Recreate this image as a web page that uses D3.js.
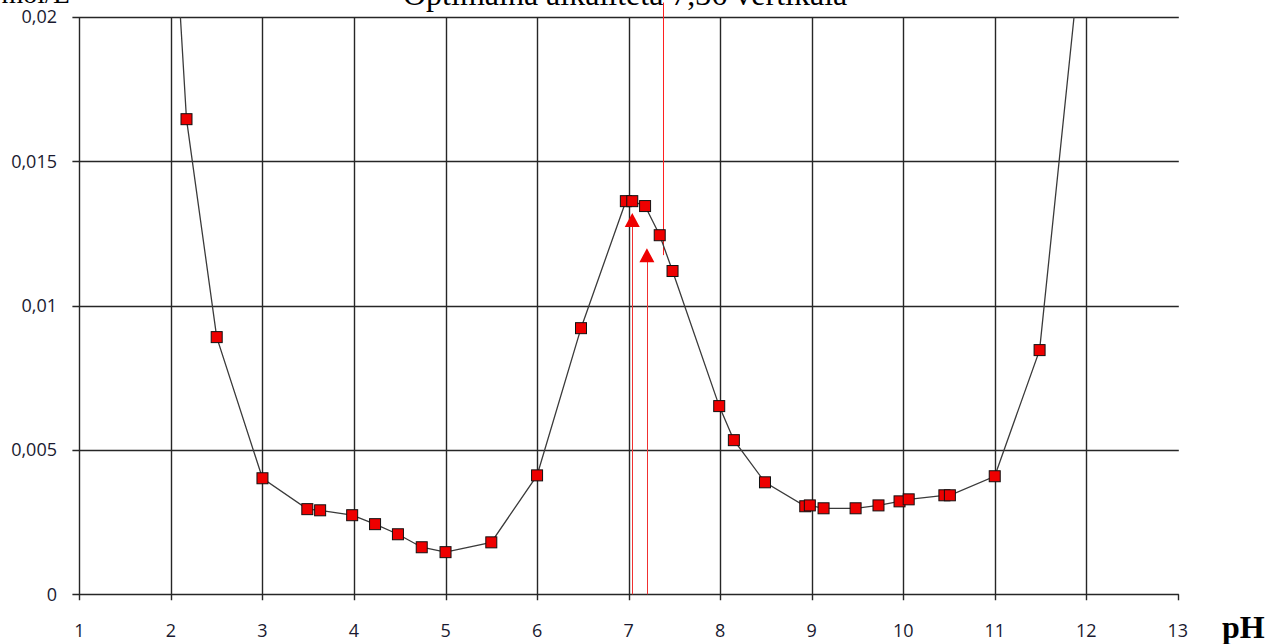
<!DOCTYPE html>
<html><head><meta charset="utf-8">
<script src="https://cdn.jsdelivr.net/npm/d3@7"></script>
<style>
html,body{margin:0;padding:0;background:#fff;}
svg{display:block;}
</style></head>
<body>
<svg id="c" width="1278" height="644"></svg>
<script>
// ---- data ----
const pH = [2.0, 2.17, 2.5, 3.0, 3.49, 3.63, 3.98, 4.23, 4.48, 4.74, 5.0, 5.5, 6.0, 6.48, 6.97, 7.04, 7.18, 7.34, 7.48, 7.99, 8.15, 8.49, 8.93, 8.98, 9.13, 9.48, 9.73, 9.96, 10.06, 10.45, 10.51, 11.0, 11.49, 12.0];
const conc = [0.0255, 0.01646, 0.00891, 0.00402, 0.00295, 0.00291, 0.00274, 0.00243, 0.00208, 0.00163, 0.00146, 0.0018, 0.00412, 0.00922, 0.01362, 0.01362, 0.01345, 0.01244, 0.0112, 0.00652, 0.00534, 0.00388, 0.00305, 0.00308, 0.00298, 0.00298, 0.00308, 0.00322, 0.00329, 0.00343, 0.00343, 0.00409, 0.00846, 0.0241];
const showMarker = [false, true, true, true, true, true, true, true, true, true, true, true, true, true, true, true, true, true, true, true, true, true, true, true, true, true, true, true, true, true, true, true, true, false];
const triPH = [7.04, 7.2];
const triConc = [0.01295, 0.01173];
const refPH = [7.38];
const refTop = [0.0205];
const refBottom = [0.01175];
const xTicks = [1,2,3,4,5,6,7,8,9,10,11,12,13];
const yTicks = [0, 0.005, 0.01, 0.015, 0.02];
const yTickLabels = ["0", "0,005", "0,01", "0,015", "0,02"];
const titleText = "Optimalna alkaliteta 7,36 vertikala";
const yUnitText = "c mol/L";
const xAxisTitle = "pH";

// ---- chart ----
const svg = d3.select("#c");
const x = d3.scaleLinear().domain([1, 13]).range([79.4, 1177.8]);
const y = d3.scaleLinear().domain([0, 0.02]).range([594.3, 17]);
const gridColor = "#262626";

svg.append("defs").append("clipPath").attr("id","plot")
  .append("rect").attr("x", x(1)).attr("y", y(0.02)).attr("width", x(13)-x(1)).attr("height", y(0)-y(0.02));

// horizontal grid lines (incl. axis) with left tick stubs
svg.append("g").selectAll("line").data(yTicks).join("line")
  .attr("x1", x(1)-7).attr("x2", x(13)+1)
  .attr("y1", d => Math.round(y(d))+0.5).attr("y2", d => Math.round(y(d))+0.5)
  .attr("stroke", gridColor).attr("stroke-width", 1.4);

// vertical grid lines
svg.append("g").selectAll("line").data(xTicks.filter(d => d < 13)).join("line")
  .attr("x1", d => Math.round(x(d))+0.5).attr("x2", d => Math.round(x(d))+0.5)
  .attr("y1", y(0.02)).attr("y2", y(0)+6)
  .attr("stroke", gridColor).attr("stroke-width", 1.4);
svg.append("line")
  .attr("x1", Math.round(x(13))+0.5).attr("x2", Math.round(x(13))+0.5)
  .attr("y1", y(0)).attr("y2", y(0)+6)
  .attr("stroke", gridColor).attr("stroke-width", 1.4);

// y tick labels
svg.append("g").selectAll("text").data(yTicks).join("text")
  .attr("x", 57).attr("y", d => y(d))
  .attr("dy", "0.35em")
  .attr("text-anchor", "end")
  .attr("font-family", "'Open Sans', sans-serif").attr("font-size", 18)
  .attr("fill", "#1a1a30")
  .text((d,i) => yTickLabels[i]);

// x tick labels
svg.append("g").selectAll("text").data(xTicks).join("text")
  .attr("x", d => x(d)).attr("y", 637)
  .attr("text-anchor", "middle")
  .attr("font-family", "'Open Sans', sans-serif").attr("font-size", 18)
  .attr("fill", "#1a1a30")
  .text(d => d);

// axis title pH
svg.append("text").attr("x", 1222).attr("y", 638)
  .attr("font-family", "'Liberation Serif', 'Times New Roman', serif")
  .attr("font-weight", "bold").attr("font-size", 32)
  .attr("fill", "#000").text(xAxisTitle);

// cut-off top texts (cropped at the top edge like the reference)
svg.append("text").attr("x", 70).attr("y", 3).attr("text-anchor", "end")
  .attr("font-family", "'Liberation Serif', serif").attr("font-size", 28)
  .attr("fill", "#000").text(yUnitText);
svg.append("text").attr("x", 403).attr("y", 5)
  .attr("font-family", "'Liberation Serif', serif").attr("font-size", 32)
  .attr("fill", "#000").text(titleText);

// triangle drop lines
svg.append("g").selectAll("line").data(triPH).join("line")
  .attr("x1", d => Math.round(x(d))+0.5).attr("x2", d => Math.round(x(d))+0.5)
  .attr("y1", (d,i) => y(triConc[i])+6).attr("y2", y(0))
  .attr("stroke", "#f03030").attr("stroke-width", 1);

// reference line
svg.append("g").selectAll("line").data(refPH).join("line")
  .attr("x1", d => Math.round(x(d))+0.5).attr("x2", d => Math.round(x(d))+0.5)
  .attr("y1", (d,i) => y(refTop[i])).attr("y2", (d,i) => y(refBottom[i]))
  .attr("stroke", "#ff2020").attr("stroke-width", 1);

// curve
const pts = pH.map((d,i) => ({x: d, y: conc[i], m: showMarker[i]}));
const line = d3.line().x(d => x(d.x)).y(d => y(d.y));
svg.append("path").datum(pts)
  .attr("clip-path", "url(#plot)")
  .attr("d", line).attr("fill", "none")
  .attr("stroke", "#3a3a3a").attr("stroke-width", 1.3);

// markers
svg.append("g").selectAll("rect").data(pts.filter(d => d.m)).join("rect")
  .attr("x", d => x(d.x)-5.5).attr("y", d => y(d.y)-5.5)
  .attr("width", 11).attr("height", 11)
  .attr("fill", "#ee0000").attr("stroke", "#111").attr("stroke-width", 1);

// triangles
svg.append("g").selectAll("path").data(triPH).join("path")
  .attr("d", (d,i) => {
    const cx = x(d), cy = y(triConc[i]);
    return `M${cx},${cy-7.5}L${cx+7.5},${cy+6.5}L${cx-7.5},${cy+6.5}Z`;
  })
  .attr("fill", "#ee0000");
</script>
</body></html>
